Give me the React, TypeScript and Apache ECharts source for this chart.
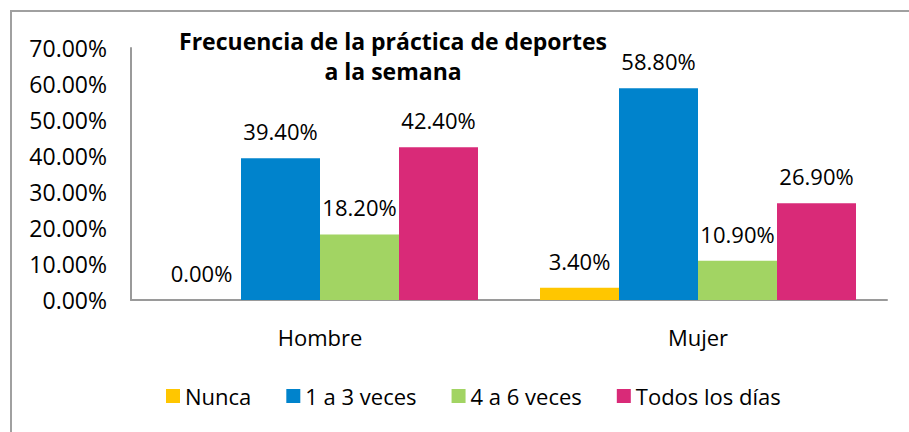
import React, { useEffect, useRef } from "react";
import * as echarts from "echarts";

const categories = ["Hombre", "Mujer"];
const seriesNames = ["Nunca", "1 a 3 veces", "4 a 6 veces", "Todos los días"];
const nunca = [0.0, 3.4];
const unoATres = [39.4, 58.8];
const cuatroASeis = [18.2, 10.9];
const todosLosDias = [42.4, 26.9];
const yTicks = [0, 10, 20, 30, 40, 50, 60, 70];
const colors = ["#FFC600", "#0083CC", "#A2D463", "#D92A78"];
const titleText = "Frecuencia de la práctica de deportes\na la semana";

const FONT = "'Open Sans', 'Noto Sans', sans-serif";

export default function App() {
  const ref = useRef<HTMLDivElement>(null);
  useEffect(() => {
    document.body.style.margin = "0";
    if (!ref.current) return;
    const chart = echarts.init(ref.current, null, { renderer: "svg" });
    const values = [nunca, unoATres, cuatroASeis, todosLosDias];
    chart.setOption({
      animation: false,
      backgroundColor: "#ffffff",
      textStyle: { fontFamily: FONT },
      graphic: [
        {
          type: "polyline",
          shape: { points: [[11, 440], [11, 11], [920, 11]] },
          style: { stroke: "#a0a0a0", lineWidth: 2, fill: "none" },
          silent: true,
        },
        {
          type: "text",
          x: 393,
          y: 26,
          z: 10,
          style: {
            text: titleText,
            textAlign: "center",
            textVerticalAlign: "top",
            fontFamily: FONT,
            fontSize: 23,
            fontWeight: "bold",
            lineHeight: 30,
            fill: "#000",
          },
        },
      ],
      grid: { left: 131, right: 22, top: 48, bottom: 132, containLabel: false },
      legend: {
        left: 161,
        top: 380,
        itemWidth: 14,
        itemHeight: 14,
        itemGap: 35,
        icon: "rect",
        textStyle: { fontSize: 22, color: "#000", fontFamily: FONT },
        data: seriesNames,
      },
      xAxis: {
        type: "category",
        data: categories,
        axisLine: { show: true, lineStyle: { color: "#9a9a9a", width: 2 } },
        axisTick: { show: false },
        axisLabel: { color: "#000", fontSize: 22, margin: 26, fontFamily: FONT },
      },
      yAxis: {
        type: "value",
        min: yTicks[0],
        max: yTicks[yTicks.length - 1],
        interval: 10,
        axisLine: { show: true, lineStyle: { color: "#9a9a9a", width: 2 } },
        axisTick: { show: false },
        splitLine: { show: false },
        axisLabel: {
          color: "#000",
          fontSize: 23,
          margin: 24,
          fontFamily: FONT,
          formatter: (v: number) => v.toFixed(2) + "%",
        },
      },
      series: seriesNames.map((name, i) => ({
        name,
        type: "bar",
        data: values[i],
        barWidth: 79,
        barGap: "0%",
        itemStyle: { color: colors[i] },
        label: {
          show: true,
          position: "top",
          distance: 16,
          color: "#000",
          fontSize: 22,
          fontFamily: FONT,
          formatter: (p: any) => Number(p.value).toFixed(2) + "%",
        },
      })),
    });
    return () => chart.dispose();
  }, []);
  return <div ref={ref} style={{ width: 909, height: 432 }} />;
}
